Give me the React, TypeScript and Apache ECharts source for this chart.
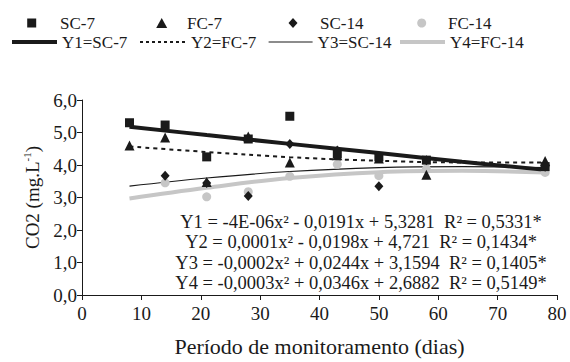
import React, { useEffect, useRef } from "react";
import * as echarts from "echarts";

const days = [8, 14, 21, 28, 35, 43, 50, 58, 78];
const days14 = [14, 21, 28, 35, 43, 50, 58, 78];
const sc7 = [5.3, 5.23, 4.25, 4.8, 5.5, 4.35, 4.25, 4.15, 3.95];
const fc7 = [4.6, 4.85, 3.48, 4.88, 4.08, 4.3, 4.2, 3.7, 4.12];
const sc14 = [3.67, 3.45, 3.05, 4.65, 4.45, 3.35, 4.15, 3.95];
const fc14 = [3.45, 3.02, 3.18, 3.65, 4.02, 3.67, 3.88, 3.77];

const trendX = [8, 21, 35, 50, 64, 78];
const y1 = [5.18, 4.92, 4.65, 4.37, 4.1, 3.85];
const y2 = [4.57, 4.4, 4.24, 4.13, 4.08, 4.08];
const y3 = [3.35, 3.6, 3.8, 3.92, 3.95, 3.92];
const y4 = [2.97, 3.3, 3.6, 3.78, 3.82, 3.77];

const equations = [
  "Y1 = -4E-06x² - 0,0191x + 5,3281  R² = 0,5331*",
  "Y2 = 0,0001x² - 0,0198x + 4,721  R² = 0,1434*",
  "Y3 = -0,0002x² + 0,0244x + 3,1594  R² = 0,1405*",
  "Y4 = -0,0003x² + 0,0346x + 2,6882  R² = 0,5149*",
];

const FONT = "'Liberation Serif', 'Times New Roman', serif";
const BLACK = "#1a1a1a";
const GREY = "#c6c6c6";

const pairs = (xs: number[], ys: number[]) => xs.map((x, i) => [x, ys[i]]);

export default function App() {
  const ref = useRef<HTMLDivElement>(null);
  useEffect(() => {
    if (!ref.current) return;
    const chart = echarts.init(ref.current, undefined, { renderer: "svg" });
    const legendText = { fontFamily: FONT, fontSize: 17, color: BLACK, lineHeight: 17 };
    const mkSymLegend = (name: string, cx: number, textLeft: number, w: number, h: number) => ({
      data: [name],
      left: cx - w / 2,
      top: 14.5,
      padding: 0,
      itemWidth: w,
      itemHeight: h,
      itemGap: 0,
      textStyle: { ...legendText, padding: [0, 0, 0, textLeft - (cx + w / 2 + 5)] },
      selectedMode: false,
    });
    const mkLineLegend = (name: string, left: number, w: number, lw: number, type: any) => ({
      data: [name],
      left,
      top: 33.5,
      padding: 0,
      itemWidth: w,
      itemHeight: 10,
      itemGap: 0,
      itemStyle: { opacity: 0 },
      lineStyle: { width: lw, type },
      textStyle: legendText,
      selectedMode: false,
    });
    chart.setOption({
      animation: false,
      backgroundColor: "#ffffff",
      textStyle: { fontFamily: FONT },
      grid: { left: 82, right: 13, top: 100, bottom: 62, containLabel: false },
      legend: [
        mkSymLegend("SC-7", 31.7, 60, 9, 9),
        mkSymLegend("FC-7", 161.7, 187, 11, 10),
        mkSymLegend("SC-14", 293, 320, 9, 10),
        mkSymLegend("FC-14", 421.7, 448, 9, 9),
        mkLineLegend("Y1=SC-7", 10, 45, 4, "solid"),
        mkLineLegend("Y2=FC-7", 139, 46, 2, [3, 3]),
        mkLineLegend("Y3=SC-14", 268, 44, 1.2, "solid"),
        mkLineLegend("Y4=FC-14", 398, 45, 4, "solid"),
      ],
      xAxis: {
        type: "value",
        min: 0,
        max: 80,
        interval: 10,
        name: "Período de monitoramento (dias)",
        nameLocation: "middle",
        nameGap: 40,
        nameTextStyle: { fontFamily: FONT, fontSize: 22, color: BLACK },
        axisLine: { show: true, lineStyle: { color: BLACK, width: 1 } },
        axisTick: { show: true, length: 5, lineStyle: { color: BLACK } },
        axisLabel: { fontFamily: FONT, fontSize: 19, color: BLACK, margin: 9 },
        splitLine: { show: false },
      },
      yAxis: {
        type: "value",
        min: 0,
        max: 6,
        interval: 1,
        name: "{a|CO2 (mg.L}{s|-1}{a|)}",
        nameLocation: "middle",
        nameGap: 38,
        nameTextStyle: {
          rich: {
            a: { fontFamily: FONT, fontSize: 19, color: BLACK, lineHeight: 22 },
            s: { fontFamily: FONT, fontSize: 11, color: BLACK, lineHeight: 22, verticalAlign: "top" },
          },
        },
        axisLine: { show: true, lineStyle: { color: BLACK, width: 1 } },
        axisTick: { show: true, length: 5, lineStyle: { color: BLACK } },
        axisLabel: {
          fontFamily: FONT,
          fontSize: 19,
          color: BLACK,
          margin: 5,
          formatter: (v: number) => v.toFixed(1).replace(".", ","),
        },
        splitLine: { show: false },
      },
      graphic: [
        {
          type: "text",
          x: 361,
          y: 252.5,
          style: {
            text: equations.join("\n"),
            font: `18.5px ${FONT}`,
            fill: BLACK,
            textAlign: "center",
            textVerticalAlign: "middle",
            lineHeight: 20.5,
          },
        },
      ],
      series: [
        {
          name: "Y4=FC-14",
          type: "line",
          data: pairs(trendX, y4),
          smooth: 0.4,
          symbol: "none",
          lineStyle: { color: GREY, width: 4 },
          itemStyle: { color: GREY },
          z: 2,
        },
        {
          name: "Y3=SC-14",
          type: "line",
          data: pairs(trendX, y3),
          smooth: 0.4,
          symbol: "none",
          lineStyle: { color: BLACK, width: 1.2 },
          itemStyle: { color: BLACK },
          z: 2,
        },
        {
          name: "Y2=FC-7",
          type: "line",
          data: pairs(trendX, y2),
          smooth: 0.4,
          symbol: "none",
          lineStyle: { color: BLACK, width: 2, type: [4, 4] },
          itemStyle: { color: BLACK },
          z: 2,
        },
        {
          name: "Y1=SC-7",
          type: "line",
          data: pairs(trendX, y1),
          smooth: 0.4,
          symbol: "none",
          lineStyle: { color: BLACK, width: 4 },
          itemStyle: { color: BLACK },
          z: 2,
        },
        {
          name: "FC-14",
          type: "scatter",
          data: pairs(days14, fc14),
          symbol: "circle",
          symbolSize: 9,
          itemStyle: { color: GREY, opacity: 1 },
          z: 3,
        },
        {
          name: "SC-14",
          type: "scatter",
          data: pairs(days14, sc14),
          symbol: "diamond",
          symbolSize: [9, 10],
          itemStyle: { color: BLACK, opacity: 1 },
          z: 3,
        },
        {
          name: "FC-7",
          type: "scatter",
          data: pairs(days, fc7),
          symbol: "triangle",
          symbolSize: [10, 10],
          itemStyle: { color: BLACK, opacity: 1 },
          z: 3,
        },
        {
          name: "SC-7",
          type: "scatter",
          data: pairs(days, sc7),
          symbol: "rect",
          symbolSize: 9,
          itemStyle: { color: BLACK, opacity: 1 },
          z: 3,
        },
      ],
    });
    return () => chart.dispose();
  }, []);
  return (
    <div
      ref={ref}
      style={{ position: "fixed", left: 0, top: 0, width: 570, height: 362, background: "#fff" }}
    />
  );
}
